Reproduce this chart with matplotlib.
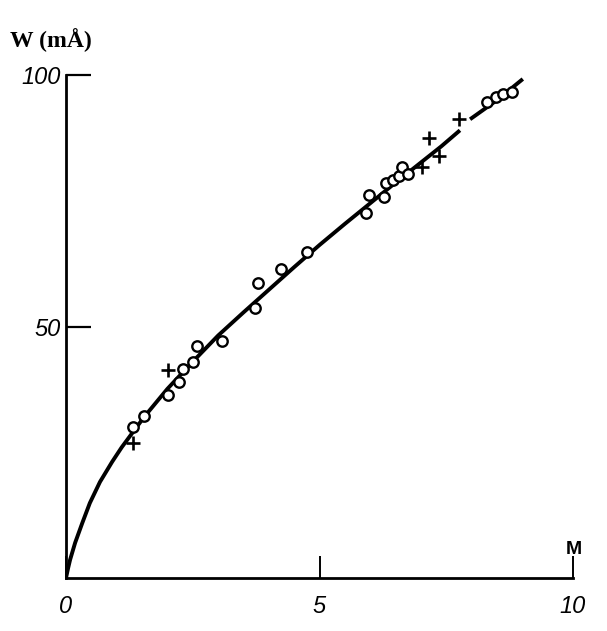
import matplotlib
matplotlib.use("Agg")
import matplotlib.pyplot as plt

# curve (two pieces, gap near M = 7.8)
curve_m = [0, 0.04, 0.08, 0.18, 0.32, 0.47, 0.67, 0.91, 1.10, 1.32, 1.54, 2.0, 2.5, 3.0,
           3.5, 4.0, 4.5, 5.0, 5.5, 6.0, 6.5, 7.0, 7.4, 7.77]
curve_w = [0, 1.9, 3.6, 7.0, 10.9, 14.9, 19.1, 23.1, 26.0, 29.0, 32.0, 37.6, 43.0, 48.2,
           52.8, 57.3, 61.8, 66.2, 70.4, 74.5, 78.6, 82.6, 85.8, 89.0]
curve2_m = [7.97, 8.5, 9.01]
curve2_w = [91.2, 95.0, 99.2]

# open circles
circ_m = [1.32, 1.54, 2.01, 2.23, 2.31, 2.50, 2.58, 3.08, 3.73, 3.79, 4.24, 4.75,
          5.92, 5.98, 6.27, 6.31, 6.45, 6.57, 6.63, 6.75, 8.30, 8.48, 8.62, 8.80]
circ_w = [30.0, 32.2, 36.4, 39.0, 41.6, 42.9, 46.1, 47.1, 53.7, 58.6, 61.4, 64.8,
          72.6, 76.1, 75.7, 78.5, 79.1, 79.9, 81.7, 80.3, 94.6, 95.6, 96.2, 96.6]

# crosses
cross_m = [1.32, 2.01, 7.02, 7.16, 7.36, 7.75]
cross_w = [26.8, 41.4, 81.7, 87.5, 83.9, 91.3]

xticks = [0, 5, 10]
yticks = [50, 100]

fig = plt.figure(figsize=(6.07, 6.31), dpi=100)
ax = fig.add_axes([66 / 607, 1 - 578 / 631, 507 / 607, 503 / 631])

ax.plot(curve_m, curve_w, color='black', lw=2.8, solid_capstyle='butt',
        solid_joinstyle='round', zorder=2)
ax.plot(curve2_m, curve2_w, color='black', lw=2.8, solid_capstyle='butt', zorder=2)
ax.plot(circ_m, circ_w, 'o', ms=7.5, mfc='white', mec='black', mew=1.7, zorder=3)
ax.plot(cross_m, cross_w, '+', ms=10.5, mec='black', mew=1.9, zorder=3)

ax.set_xlim(0, 10)
ax.set_ylim(0, 100)
for s in ['top', 'right']:
    ax.spines[s].set_visible(False)
for s in ['left', 'bottom']:
    ax.spines[s].set_linewidth(2.0)

ax.set_xticks(xticks)
ax.set_yticks(yticks)
ax.set_xticklabels([str(t) for t in xticks], fontstyle='italic', fontsize=17,
                   family='Liberation Sans')
ax.set_yticklabels([str(t) for t in yticks], fontstyle='italic', fontsize=17,
                   family='Liberation Sans')
ax.tick_params(axis='x', direction='in', length=16, width=1.4, pad=12)
ax.tick_params(axis='y', direction='in', length=18, width=1.6, pad=4)

fig.text(10 / 607, 1 - 40 / 631, 'W (mÅ)', fontsize=17, fontweight='bold',
         family='Liberation Serif', va='center', ha='left')
fig.text(574 / 607, 1 - 549 / 631, 'M', fontsize=14, fontweight='bold',
         family='Liberation Sans', va='center', ha='center')

fig.savefig('out.png', dpi=100)
